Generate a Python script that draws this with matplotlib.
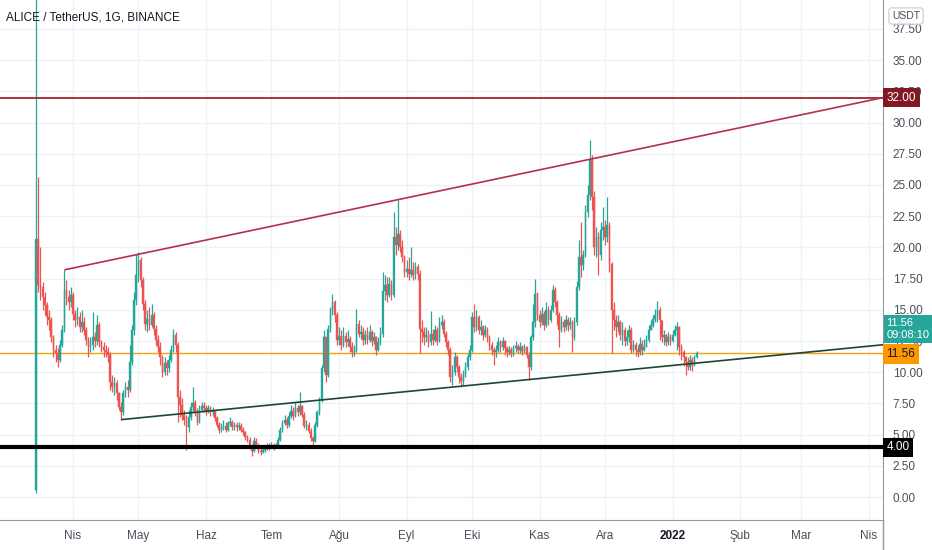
import numpy as np
import pandas as pd
import matplotlib
matplotlib.use("Agg")
import matplotlib.pyplot as plt
import matplotlib.dates as mdates
from matplotlib.lines import Line2D

plt.rcParams['font.family'] = ['Liberation Sans', 'DejaVu Sans']

# ALICE/USDT daily candles, 2021-03-15 .. 2022-01-12
start_date = "2021-03-15"
first_open = 0.6
closes = [
    20.7, 17.0, 16.8, 16.0, 15.4, 14.4, 14.2, 12.8, 11.8, 11.5,
    11.0, 12.2, 13.4, 16.6, 16.0, 15.6, 16.2, 14.7, 14.2, 14.4,
    13.6, 14.0, 13.4, 12.6, 12.0, 12.2, 12.8, 12.5, 13.8, 12.4,
    12.0, 11.8, 11.6, 11.4, 9.2, 8.8, 9.1, 8.3, 7.2, 6.8,
    8.3, 8.8, 8.6, 10.8, 13.4, 15.8, 17.8, 19.0, 17.4, 15.5,
    13.9, 14.3, 13.8, 14.6, 13.5, 12.6, 12.0, 11.2, 10.0, 10.7,
    10.3, 11.0, 11.8, 13.0, 12.2, 8.0, 7.4, 6.6, 6.2, 5.6,
    6.4, 7.2, 7.5, 6.9, 6.0, 7.0, 7.3, 7.1, 6.9, 7.1,
    6.8, 6.9, 6.3, 5.8, 5.4, 5.6, 5.7, 5.4, 5.9, 6.0,
    5.6, 5.8, 5.6, 5.7, 5.4, 5.2, 4.8, 4.6, 4.0, 3.7,
    4.5, 4.2, 3.7, 3.6, 3.8, 3.9, 4.1, 4.0, 4.2, 4.0,
    4.1, 4.6, 5.4, 5.9, 6.2, 5.8, 6.5, 6.9, 6.5, 7.1,
    6.8, 7.3, 6.6, 5.7, 5.8, 5.3, 4.7, 4.5, 5.8, 6.8,
    7.8, 10.3, 12.8, 9.8, 13.5, 14.9, 15.6, 14.6, 12.6, 12.9,
    12.2, 12.9, 12.4, 12.7, 12.0, 11.6, 11.8, 13.9, 13.1, 13.2,
    12.6, 13.0, 12.6, 13.2, 12.5, 12.8, 11.8, 12.4, 13.1, 16.5,
    17.0, 16.2, 17.1, 16.2, 20.8, 20.2, 21.1, 20.0, 19.2, 18.0,
    18.3, 17.9, 18.2, 17.8, 18.4, 17.9, 13.5, 13.2, 12.8, 13.0,
    12.4, 13.1, 12.6, 13.4, 12.5, 13.8, 14.0, 13.1, 12.4, 11.8,
    9.6, 10.0, 11.2, 10.4, 9.6, 9.3, 9.8, 10.4, 11.2, 11.8,
    14.4, 13.6, 14.4, 13.4, 13.6, 13.0, 13.4, 12.8, 12.2, 11.8,
    11.6, 11.8, 12.4, 12.0, 12.5, 11.9, 11.6, 11.8, 11.5, 11.9,
    12.1, 11.8, 12.0, 11.7, 12.0, 11.4, 10.4, 12.8, 14.0, 16.3,
    14.6, 14.0, 14.7, 13.8, 15.0, 14.2, 15.0, 16.6, 15.6, 14.6,
    13.4, 14.0, 13.6, 14.2, 13.8, 14.0, 12.8, 14.0, 16.8, 19.2,
    18.6, 19.4, 22.8, 24.2, 27.0, 24.0, 20.0, 20.8, 19.4, 21.4,
    21.6, 20.8, 21.8, 18.7, 15.0, 14.2, 13.6, 14.0, 13.0, 13.4,
    12.5, 12.8, 13.4, 11.8, 12.2, 11.8, 11.6, 12.3, 11.8, 12.0,
    12.6, 13.4, 13.8, 14.3, 14.6, 15.0, 14.2, 12.8, 13.0, 12.4,
    12.8, 12.5, 13.0, 13.4, 13.6, 12.0, 11.6, 11.2, 10.8, 10.4,
    11.0, 10.6, 11.2, 11.56,
]
highs = [
    45.0, 25.6, 20.0, 17.2, 16.4, 15.6, 15.0, 14.4, 13.0, 12.2,
    11.9, 12.6, 13.8, 18.2, 17.4, 16.6, 16.8, 16.4, 15.0, 15.2,
    14.8, 15.0, 14.4, 13.6, 12.8, 12.8, 14.8, 13.2, 14.6, 14.0,
    12.6, 12.4, 12.2, 12.0, 11.6, 9.8, 9.6, 9.4, 8.4, 7.6,
    8.6, 9.2, 9.4, 12.2, 13.8, 16.4, 19.5, 19.6, 19.2, 17.6,
    15.8, 15.0, 15.2, 15.5, 14.8, 13.8, 13.0, 12.4, 11.4, 11.2,
    11.0, 11.4, 12.2, 13.5, 13.2, 12.4, 8.6, 7.9, 7.0, 6.6,
    7.0, 7.6, 8.8, 7.8, 7.1, 7.4, 7.6, 7.6, 7.4, 7.4,
    7.3, 7.2, 7.0, 6.5, 6.0, 5.9, 6.2, 6.0, 6.1, 6.4,
    6.2, 6.0, 6.0, 6.0, 5.9, 5.6, 5.3, 5.0, 4.8, 4.2,
    4.8, 4.7, 4.3, 3.9, 4.0, 4.1, 4.3, 4.3, 4.4, 4.3,
    4.3, 4.8, 5.6, 6.2, 6.6, 6.4, 6.8, 7.4, 7.2, 7.6,
    7.4, 8.4, 7.4, 6.8, 6.2, 6.0, 5.5, 4.9, 6.0, 7.0,
    8.0, 10.6, 13.4, 12.4, 13.8, 15.2, 16.3, 15.8, 14.8, 13.6,
    13.4, 13.6, 13.2, 13.4, 12.9, 12.4, 12.2, 15.1, 14.2, 13.8,
    13.6, 13.4, 13.6, 13.8, 13.4, 13.2, 12.9, 12.8, 13.6, 18.0,
    17.8, 17.6, 17.6, 17.4, 22.8, 21.6, 23.8, 21.4, 20.6, 19.4,
    19.0, 19.2, 20.0, 18.8, 18.8, 18.7, 18.2, 14.2, 13.6, 13.6,
    13.4, 14.9, 13.5, 13.8, 13.6, 14.4, 14.6, 14.3, 13.3, 12.6,
    12.0, 10.6, 11.6, 11.4, 10.6, 9.9, 10.2, 10.8, 11.5, 12.2,
    14.8, 15.5, 15.0, 14.6, 14.2, 13.8, 13.8, 13.6, 13.0, 12.4,
    12.0, 12.2, 12.8, 12.6, 12.8, 12.6, 12.1, 12.1, 12.0, 12.2,
    12.5, 12.3, 12.4, 12.2, 12.3, 12.1, 11.6, 13.0, 15.5, 17.5,
    16.4, 15.0, 15.2, 14.9, 15.6, 15.3, 15.4, 17.0, 16.8, 15.8,
    14.8, 14.5, 14.3, 14.6, 14.4, 14.4, 14.2, 14.4, 17.3, 20.6,
    22.0, 19.8, 23.4, 25.0, 28.6, 27.4, 24.5, 21.6, 21.2, 22.0,
    23.2, 22.2, 24.0, 22.0, 18.8, 15.6, 14.6, 14.6, 14.2, 14.0,
    13.6, 13.4, 13.8, 13.6, 12.6, 12.4, 12.2, 12.8, 12.6, 12.7,
    13.0, 13.8, 14.2, 14.6, 15.1, 15.7, 15.2, 14.2, 13.4, 13.1,
    13.2, 13.1, 13.4, 13.8, 14.0, 13.7, 12.3, 11.8, 11.3, 11.2,
    11.4, 11.2, 11.4, 11.7,
]
lows = [
    0.3, 16.4, 15.8, 15.0, 14.6, 13.8, 13.4, 12.4, 11.2, 10.8,
    10.4, 10.8, 12.0, 13.2, 15.4, 15.0, 15.2, 14.2, 13.6, 13.8,
    13.2, 13.2, 13.0, 12.2, 11.2, 11.6, 11.8, 12.0, 12.2, 12.0,
    11.6, 11.2, 11.2, 10.8, 8.6, 8.4, 8.2, 7.8, 7.0, 6.2,
    6.6, 8.0, 8.0, 8.4, 10.6, 13.0, 15.4, 17.2, 16.8, 15.0,
    13.4, 13.2, 13.4, 13.6, 13.0, 12.2, 11.6, 10.6, 9.6, 9.8,
    9.8, 10.0, 10.8, 11.6, 11.6, 6.0, 6.4, 6.2, 5.8, 3.8,
    5.2, 6.2, 6.8, 6.5, 5.8, 5.9, 6.8, 6.8, 6.6, 6.7,
    6.5, 6.5, 6.1, 5.6, 5.1, 5.2, 5.4, 5.2, 5.3, 5.7,
    5.4, 5.4, 5.3, 5.4, 5.2, 5.0, 4.6, 4.4, 3.9, 3.3,
    3.6, 4.0, 3.5, 3.4, 3.5, 3.6, 3.8, 3.8, 3.9, 3.8,
    3.9, 4.0, 4.5, 5.2, 5.8, 5.5, 5.6, 6.3, 6.2, 6.4,
    6.5, 6.6, 6.4, 5.5, 5.4, 5.1, 4.5, 4.0, 4.4, 5.6,
    6.6, 7.6, 10.0, 9.2, 9.6, 13.2, 14.6, 14.0, 12.2, 12.2,
    11.8, 12.0, 12.0, 12.1, 11.6, 11.2, 11.3, 11.6, 12.8, 12.7,
    12.2, 12.3, 12.3, 12.4, 12.1, 12.3, 11.4, 11.7, 12.2, 12.8,
    15.8, 15.6, 16.0, 15.8, 16.0, 19.4, 19.8, 19.6, 18.8, 17.6,
    17.6, 17.4, 17.6, 17.4, 17.5, 17.4, 11.5, 12.4, 12.2, 12.4,
    12.0, 12.2, 12.2, 12.4, 12.2, 12.4, 13.5, 12.8, 12.0, 11.4,
    9.2, 9.0, 9.8, 10.0, 9.1, 8.8, 9.0, 9.6, 10.2, 11.0,
    11.6, 13.2, 13.3, 13.1, 13.0, 12.6, 12.8, 12.4, 11.8, 11.4,
    10.6, 11.2, 11.6, 11.6, 11.8, 11.4, 11.2, 11.4, 11.2, 11.3,
    11.6, 11.5, 11.5, 11.4, 11.5, 11.1, 9.4, 10.2, 12.6, 13.6,
    14.2, 13.6, 13.8, 13.4, 13.6, 13.8, 14.0, 14.8, 15.2, 13.8,
    12.0, 13.2, 13.2, 13.4, 13.3, 13.5, 11.6, 12.6, 13.8, 16.6,
    17.6, 18.2, 19.2, 22.4, 23.8, 23.0, 19.4, 19.2, 17.8, 19.0,
    20.6, 20.2, 20.4, 18.0, 11.5, 13.4, 12.8, 13.2, 12.6, 12.2,
    12.1, 12.2, 12.4, 11.5, 11.6, 11.3, 11.2, 11.4, 11.4, 11.7,
    12.0, 12.4, 13.4, 13.6, 14.0, 14.0, 12.6, 12.4, 12.2, 12.1,
    12.2, 12.2, 12.4, 12.9, 11.8, 11.4, 11.0, 10.5, 9.8, 10.2,
    10.2, 10.1, 10.5, 11.1,
]

# drawings
res_level = 32.0
sup_level = 4.0
last_price = 11.56
countdown = "09:08:10"
upper_line = (["2021-03-28T00:00", "2022-04-07T12:00"], [18.2, 32.0])
lower_line = (["2021-04-23T00:00", "2022-04-07T12:00"], [6.2, 12.2])
month_ticks = ["2021-04-01", "2021-05-01", "2021-06-01", "2021-07-01", "2021-08-01",
               "2021-09-01", "2021-10-01", "2021-11-01", "2021-12-01", "2022-01-01",
               "2022-02-01", "2022-03-01", "2022-04-01"]
month_labels = ["Nis", "May", "Haz", "Tem", "Ağu", "Eyl", "Eki", "Kas", "Ara", "2022",
                "Şub", "Mar", "Nis"]
price_ticks = np.arange(0, 37.6, 2.5)

UP = "#26a69a"
DOWN = "#ef5350"
GRID = "#eef1f6"
TXT = "#4a4e59"

opens = [first_open] + closes[:-1]
o = np.array(opens)
c = np.array(closes)
h = np.maximum(np.array(highs), np.maximum(o, c))
l = np.minimum(np.array(lows), np.minimum(o, c))
dates = pd.date_range(start_date, periods=len(closes), freq="D")
x = mdates.date2num(dates)
cols = np.where(c >= o, UP, DOWN)

fig = plt.figure(figsize=(9.32, 5.5), dpi=100)
ax = fig.add_axes([0, 30 / 550, 883 / 932, 520 / 550])

x0 = mdates.date2num(pd.Timestamp(start_date))
ax.set_xlim(x0 - 16.5, x0 + 388.5)
ax.set_ylim(-1.84, 39.82)

ax.set_yticks(price_ticks)
ax.set_xticks(mdates.date2num(pd.to_datetime(month_ticks)))
ax.grid(True, color=GRID, lw=1, zorder=0)
ax.set_axisbelow(True)

# candles
ax.vlines(x, l, h, colors=cols, lw=0.9, zorder=3)
body_lo = np.minimum(o, c)
body_h = np.maximum(np.abs(c - o), 0.06)
ax.bar(x, body_h, bottom=body_lo, width=0.72, color=cols, edgecolor=cols, lw=0.3, zorder=3)

# horizontal levels
ax.axhline(res_level, color="#a8323f", lw=1.4, zorder=4)
ax.axhline(sup_level, color="#000000", lw=3.0, zorder=4)
ax.axhline(last_price, color="#f0a30a", lw=1.0, zorder=2)

# trend lines
ax.plot(mdates.date2num(pd.to_datetime(upper_line[0])), upper_line[1],
        color="#b5304a", lw=1.2, zorder=4, solid_capstyle="butt")
ax.plot(mdates.date2num(pd.to_datetime(lower_line[0])), lower_line[1],
        color="#1f4536", lw=1.2, zorder=4, solid_capstyle="butt")

# axes styling
for s in ["top", "left"]:
    ax.spines[s].set_visible(False)
ax.spines["right"].set_color("#9598a1")
ax.spines["bottom"].set_color("#9598a1")
ax.yaxis.tick_right()
ax.tick_params(axis="y", length=0, pad=7, labelsize=8.5, colors=TXT)
ax.tick_params(axis="x", length=0, pad=7, labelsize=8.5, colors=TXT)
ax.set_yticklabels([f"{v:.2f}" for v in price_ticks])
ax.set_xticklabels(month_labels)
for t in ax.get_xticklabels():
    if t.get_text() == "2022":
        t.set_fontweight("bold")
        t.set_color("#131722")

# vertical separator below the plot
fig.add_artist(Line2D([883 / 932, 883 / 932], [0, 30 / 550], color="#9598a1", lw=1))

# price labels on right scale
tr = ax.get_yaxis_transform()
lab = dict(transform=tr, ha="left", va="center", zorder=10, clip_on=False)
ax.text(1.004, res_level, f"{res_level:.2f}", color="white", fontsize=8.5,
        bbox=dict(boxstyle="square,pad=0.3", fc="#801922", ec="none"), **lab)
ax.text(1.004, sup_level, f"{sup_level:.2f}", color="white", fontsize=8.5,
        bbox=dict(boxstyle="square,pad=0.3", fc="#000000", ec="none"), **lab)
ax.text(1.004, last_price - 0.1, f"{last_price:.2f}", color="#131722", fontsize=8.5,
        bbox=dict(boxstyle="square,pad=0.3", fc="#ff9800", ec="none"), **lab)
ax.text(1.004, 13.45, f"{last_price:.2f}\n{countdown}", color="white", fontsize=8,
        linespacing=1.3, bbox=dict(boxstyle="square,pad=0.25", fc=UP, ec="none"), **lab)

fig.text(906 / 932, 1 - 16 / 550, "USDT", ha="center", va="center", fontsize=7.5,
         color=TXT, bbox=dict(boxstyle="round,pad=0.3,rounding_size=0.3", fc="white", ec="#d1d4dc"))

fig.text(6 / 932, 1 - 17 / 550, "ALICE / TetherUS, 1G, BINANCE", ha="left", va="center",
         fontsize=8.5, color="#131722")

fig.savefig("out.png", dpi=100)
